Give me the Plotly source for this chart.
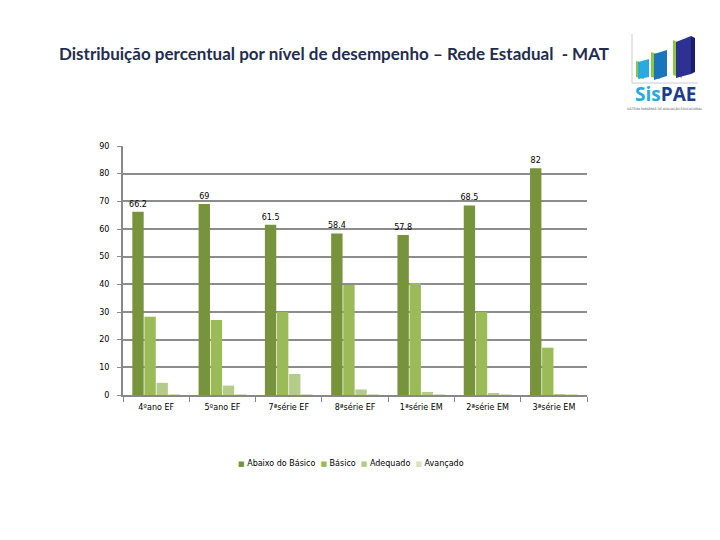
import plotly.graph_objects as go

categories = ["4ºano EF", "5ºano EF", "7ªsérie EF", "8ªsérie EF", "1ªsérie EM", "2ªsérie EM", "3ªsérie EM"]
abaixo = [66.2, 69, 61.5, 58.4, 57.8, 68.5, 82]
basico = [28.3, 27.1, 30.0, 39.8, 40.5, 30.0, 17.1]
adequado = [4.4, 3.4, 7.6, 2.0, 1.1, 0.7, 0.1]
avancado = [0.1, 0.1, 0.2, 0.1, 0.1, 0.1, 0.1]
series_names = ["Abaixo do Básico", "Básico", "Adequado", "Avançado"]
colors = ["#77933C", "#9BBB59", "#B5CB8A", "#D7E4BD"]

OFF = 8  # page body margin
L, R, T, B = 123 - OFF, 587 - OFF, 146 - OFF, 395 - OFF


def px(x):
    return (x - OFF - L) / (R - L)


def py(y):
    return (B - (y - OFF)) / (B - T)


fig = go.Figure()
for name, vals, col in zip(series_names, [abaixo, basico, adequado, avancado], colors):
    fig.add_trace(go.Bar(
        x=categories, y=vals, name=name, marker_color=col,
        marker_line_width=0, showlegend=False,
        text=[str(v) for v in vals] if name == "Abaixo do Básico" else None,
        textposition="outside" if name == "Abaixo do Básico" else "none",
        textfont=dict(family="DejaVu Sans", size=8, color="#000000"),
        constraintext="none",
        cliponaxis=False,
    ))

fig.update_layout(
    width=720, height=540,
    margin=dict(l=L, r=720 - R, t=T, b=540 - B, autoexpand=False),
    paper_bgcolor="white", plot_bgcolor="white",
    barmode="group", bargap=0.27, bargroupgap=0.06,
    showlegend=False,
    font=dict(family="DejaVu Sans", size=8, color="#000000"),
)
fig.update_xaxes(
    showgrid=False, showline=True, linecolor="#888888", linewidth=2,
    ticks="outside", tickson="boundaries", ticklen=5, tickcolor="#888888", tickwidth=1,
    tickfont=dict(family="DejaVu Sans", size=8, color="#000000"),
    ticklabelstandoff=3,
)
fig.update_yaxes(
    range=[0, 90], dtick=10, showgrid=True, gridcolor="#8C8C8C", gridwidth=2,
    showline=True, linecolor="#888888", linewidth=2,
    ticks="outside", ticklen=4, tickcolor="#888888",
    tickfont=dict(family="DejaVu Sans", size=8, color="#000000"),
    ticklabelstandoff=6,
    zeroline=False,
)

# Legend (drawn as one text line with coloured squares)
legend_parts = [
    f"<span style='color:{c};font-size:7px'>■</span> {n}" for n, c in zip(series_names, colors)
]
fig.add_annotation(
    text="  ".join(legend_parts),
    xref="paper", yref="paper", x=px(351), y=py(463), xanchor="center", yanchor="middle",
    showarrow=False, font=dict(family="DejaVu Sans", size=8, color="#000000"),
)

# Title
fig.add_annotation(
    text="<b>Distribuição percentual por nível de desempenho – Rede Estadual  - MAT</b>",
    xref="paper", yref="paper", x=px(57), y=py(53), xanchor="left", yanchor="middle",
    showarrow=False, font=dict(family="Lato", size=17, color="#1F2D4E"),
)

# Logo (approximate drawing)
shapes = []
shapes.append(dict(type="line", xref="paper", yref="paper", x0=px(632), x1=px(632), y0=py(34), y1=py(83),
                   line=dict(color="#C8CCD8", width=1)))
shapes.append(dict(type="line", xref="paper", yref="paper", x0=px(632), x1=px(698), y0=py(83), y1=py(83),
                   line=dict(color="#C8CCD8", width=1)))


def poly(pts, color):
    d = "M " + " L ".join(f"{px(a)},{py(b)}" for a, b in pts) + " Z"
    return dict(type="path", xref="paper", yref="paper", path=d, fillcolor=color, line=dict(width=0))


# small book
shapes.append(poly([(636, 61), (644, 63), (644, 79), (636, 77)], "#8DC63F"))
shapes.append(poly([(638, 62), (649, 59), (649, 77), (638, 79)], "#29ABE2"))
# middle book
shapes.append(poly([(651, 52), (660, 55), (660, 79), (651, 77)], "#8DC63F"))
shapes.append(poly([(654, 54), (667, 50), (667, 76), (654, 80)], "#1C75BC"))
# large book
shapes.append(poly([(673, 40), (682, 44), (682, 78), (673, 75)], "#8DC63F"))
shapes.append(poly([(676, 42), (691, 36), (691, 74), (676, 78)], "#2E3192"))
shapes.append(poly([(691, 36), (695, 38), (695, 72), (691, 74)], "#1B1F6B"))

fig.update_layout(shapes=shapes)

fig.add_annotation(text="<b><span style='color:#29A9E0'>Sis</span><span style='color:#1E3C8C'>PAE</span></b>",
                   xref="paper", yref="paper", x=px(665), y=py(94), xanchor="center", yanchor="middle",
                   showarrow=False, font=dict(family="Open Sans", size=19), borderpad=0)
fig.add_annotation(text="SISTEMA PARAENSE DE AVALIAÇÃO EDUCACIONAL",
                   xref="paper", yref="paper", x=px(665), y=py(109), xanchor="center", yanchor="middle",
                   showarrow=False, font=dict(family="DejaVu Sans", size=3, color="#555555"), borderpad=0)

fig.write_html("out.html")
